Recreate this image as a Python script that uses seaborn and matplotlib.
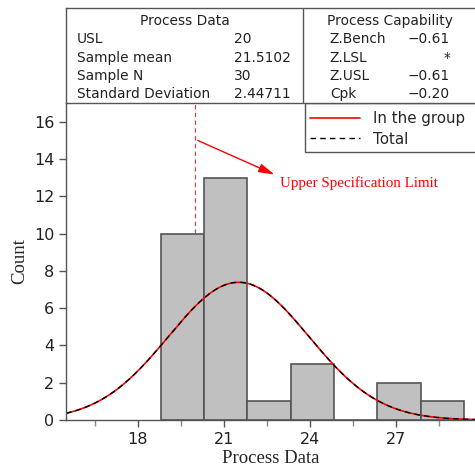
import numpy as np
import pandas as pd
import seaborn as sns
import matplotlib
matplotlib.use("Agg")
import matplotlib.pyplot as plt
from matplotlib.ticker import MultipleLocator
from matplotlib.patches import Rectangle

# ---- data ----
bin_edges = [18.79, 20.30, 21.81, 23.32, 24.83, 26.34, 27.85, 29.36]
counts = [10, 13, 1, 3, 0, 2, 1]
usl = 20
sample_mean = 21.5102
sample_n = 30
std_dev = 2.44711
proc_data_labels = ["USL", "Sample mean", "Sample N", "Standard Deviation"]
proc_data_values = ["20", "21.5102", "30", "2.44711"]
cap_labels = ["Z.Bench", "Z.LSL", "Z.USL", "Cpk"]
cap_values = ["\u22120.61", "*", "\u22120.61", "\u22120.20"]
x_ticks = [18, 21, 24, 27]
y_ticks = [0, 2, 4, 6, 8, 10, 12, 14, 16]

sns.set_theme(style="white")
plt.rcParams["font.family"] = ["DejaVu Sans"]

fig = plt.figure(figsize=(4.75, 4.72), dpi=100)
ax = fig.add_axes([66/475, 52/472, 1 - 66/475, (420-103)/472])

centers = [(a + b) / 2 for a, b in zip(bin_edges[:-1], bin_edges[1:])]
df = pd.DataFrame({"x": centers, "w": counts})
sns.histplot(data=df, x="x", weights="w", bins=bin_edges, ax=ax,
             color="#c0c0c0", edgecolor="#555555", linewidth=1.2, alpha=1)

# fitted normal curve
xs = np.linspace(15.49, 29.8, 300)
bw = bin_edges[1] - bin_edges[0]
ys = sample_n * bw * np.exp(-0.5 * ((xs - sample_mean) / std_dev) ** 2) / (std_dev * np.sqrt(2 * np.pi))
cdf = pd.DataFrame({"x": xs, "y": ys})
sns.lineplot(data=cdf, x="x", y="y", ax=ax, color="red", linewidth=1.2, label="In the group")
sns.lineplot(data=cdf, x="x", y="y", ax=ax, color="black", linewidth=1.0,
             linestyle=(0, (4, 3)), label="Total")

ax.axvline(usl, color="#ff3030", linestyle=(0, (4, 3)), linewidth=0.8, zorder=0.5)

ax.annotate("", xy=(22.85, 13.1), xytext=(usl, 15.05),
            arrowprops=dict(arrowstyle="-|>,head_length=0.8,head_width=0.22", color="red", lw=1.0))
ax.text(22.95, 12.7, "Upper Specification Limit", color="red", fontsize=10.8,
        family="Liberation Serif", va="center", ha="left")

ax.set_xlim(15.49, 29.75)
ax.set_ylim(0, 17)
ax.set_xticks(x_ticks)
ax.xaxis.set_minor_locator(MultipleLocator(1.5))
ax.set_yticks(y_ticks)
ax.tick_params(axis="both", which="major", direction="out", length=5, width=1,
               color="#555555", labelsize=11.5, labelcolor="#222222", bottom=True, left=True)
ax.tick_params(axis="x", which="minor", direction="out", length=4, width=1, color="#888888", bottom=True)
for s in ["top", "right"]:
    ax.spines[s].set_visible(False)
for s in ["left", "bottom"]:
    ax.spines[s].set_color("#555555")
    ax.spines[s].set_linewidth(1.0)
ax.set_xlabel("Process Data", family="Liberation Serif", fontsize=13.5, labelpad=2)
ax.set_ylabel("Count", family="Liberation Serif", fontsize=13.5, labelpad=4)

# legend (frame drawn separately so it runs off the right edge like the reference)
leg_left = (305 - 66) / 409
leg_bottom = (420 - 152) / 317
leg = ax.legend(loc="upper left", bbox_to_anchor=(leg_left, 1.0 - 3 / 317), frameon=False,
                fontsize=10.8, handlelength=3.3, borderpad=0.35, labelspacing=0.35,
                borderaxespad=0, handletextpad=0.9)
ax.add_patch(Rectangle((leg_left, leg_bottom), 0.6, 1.0 - leg_bottom, transform=ax.transAxes,
                       facecolor="white", edgecolor="#555555", linewidth=1.0,
                       clip_on=False, zorder=4))
leg.set_zorder(5)

# ---- table ----
tx = fig.add_axes([66/475, (472-103)/472, 1 - 66/475, 95/472])
tx.set_xlim(0, 1)
tx.set_ylim(0, 1)
tx.set_xticks([])
tx.set_yticks([])
tx.set_facecolor("white")
for s in ["left", "top", "bottom"]:
    tx.spines[s].set_color("#555555")
    tx.spines[s].set_linewidth(1.0)
tx.spines["right"].set_visible(False)
tx.axvline(0.579, color="#555555", linewidth=1.0)

fs = 9.9
rows_y = [0.67, 0.475, 0.285, 0.095]
tx.text(0.291, 0.86, "Process Data", ha="center", va="center", fontsize=fs, color="#222222")
tx.text(0.792, 0.86, "Process Capability", ha="center", va="center", fontsize=fs, color="#222222")
for yy, lab, val in zip(rows_y, proc_data_labels, proc_data_values):
    tx.text(0.026, yy, lab, ha="left", va="center", fontsize=fs, color="#222222")
    tx.text(0.411, yy, val, ha="left", va="center", fontsize=fs, color="#222222")
for yy, lab, val in zip(rows_y, cap_labels, cap_values):
    tx.text(0.645, yy, lab, ha="left", va="center", fontsize=fs, color="#222222")
    tx.text(0.939, yy, val, ha="right", va="center", fontsize=fs, color="#222222")

fig.savefig("out.png", dpi=100)
